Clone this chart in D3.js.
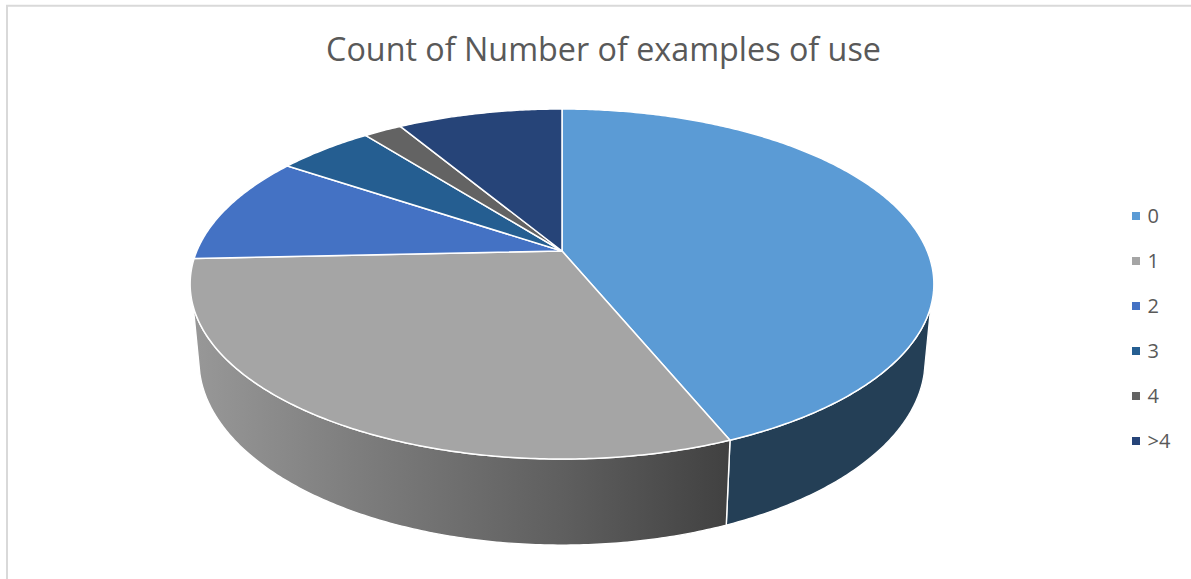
<!DOCTYPE html>
<html>
<head>
<meta charset="utf-8">
<script src="https://cdn.jsdelivr.net/npm/d3@7"></script>
<style>
html,body{margin:0;padding:0;background:#fff;overflow:hidden}
svg{display:block}
text{font-family:"Open Sans",sans-serif;fill:#595959}
</style>
</head>
<body>
<svg id="c" width="1191" height="579"></svg>
<script>
const categories = ["0","1","2","3","4",">4"];
const shares = [43.8,30.5,10.1,5.0,2.0,8.6];
const topColors = ["#5B9BD5","#A5A5A5","#4472C4","#255E91","#636363","#264478"];
const sideColors = ["#243F56","url(#greySide)","#2A4475","#163855","#3B3B3B","#172A48"];
const titleText = "Count of Number of examples of use";

const svg = d3.select("#c");
const W = 1191, H = 579;
svg.append("path").attr("d", `M${W},5.7H7V${H}`).attr("fill","none").attr("stroke","#d9d9d9").attr("stroke-width",2);

const defs = svg.append("defs");
const grad = defs.append("linearGradient").attr("id","greySide").attr("gradientUnits","userSpaceOnUse")
  .attr("x1",192).attr("x2",728).attr("y1",0).attr("y2",0);
[[0,"#989898"],[0.3,"#7e7e7e"],[0.7,"#5e5e5e"],[1,"#414141"]].forEach(s=>grad.append("stop").attr("offset",s[0]).attr("stop-color",s[1]));

// perspective projections of the unit disc: top face and bottom rim
const cx = 562;
const makeProj = (y0,a,c,d)=>t=>{
  const u=Math.sin(t), v=-Math.cos(t), k=1+c*v;
  return [cx+d*u/k, y0+a*v/k];
};
const topP = makeProj(251,168.8,-0.1886,365.2);
const botP = makeProj(325,178.3,-0.19,356.5);
const apex = [cx,251];

const pie = d3.pie().sort(null).startAngle(0).endAngle(2*Math.PI);
const arcs = pie(shares);
const colorTop = d3.scaleOrdinal(categories, topColors);
const colorSide = d3.scaleOrdinal(categories, sideColors);
const line = d3.line();
const sample = (a,b,f)=>{const n=Math.max(2,Math.ceil(Math.abs(b-a)/0.01));return d3.range(n+1).map(i=>f(a+(b-a)*i/n));};

// side wall: only the part facing the viewer
const rad = Math.PI/180;
const visA = 108*rad, visB = 252*rad, rimA = 105*rad, rimB = 255*rad;
const gSide = svg.append("g");
arcs.forEach((s,i)=>{
  const a=Math.max(s.startAngle,visA), b=Math.min(s.endAngle,visB);
  if(b<=a) return;
  const a2 = a===visA ? rimA : a, b2 = b===visB ? rimB : b;
  const pts = sample(a,b,topP).concat(sample(b2,a2,botP));
  gSide.append("path").attr("d",line(pts)+"Z").attr("fill",colorSide(categories[i]))
    .attr("stroke","#fff").attr("stroke-width",1.4).attr("stroke-linejoin","round");
});

// top face
const gTop = svg.append("g");
arcs.forEach((s,i)=>{
  const pts = [apex].concat(sample(s.startAngle,s.endAngle,topP));
  gTop.append("path").attr("d",line(pts)+"Z").attr("fill",colorTop(categories[i]))
    .attr("stroke","#fff").attr("stroke-width",1.5).attr("stroke-linejoin","round");
});

svg.append("text").attr("x",603.5).attr("y",61).attr("text-anchor","middle")
  .attr("font-size",32.3).text(titleText);

const ly = d3.scalePoint().domain(categories).range([216,441]);
const gLeg = svg.append("g");
categories.forEach(c=>{
  gLeg.append("rect").attr("x",1132).attr("y",ly(c)-4).attr("width",8).attr("height",8).attr("fill",colorTop(c));
  gLeg.append("text").attr("x",1147.5).attr("y",ly(c)+7).attr("font-size",20).text(c);
});
</script>
</body>
</html>
